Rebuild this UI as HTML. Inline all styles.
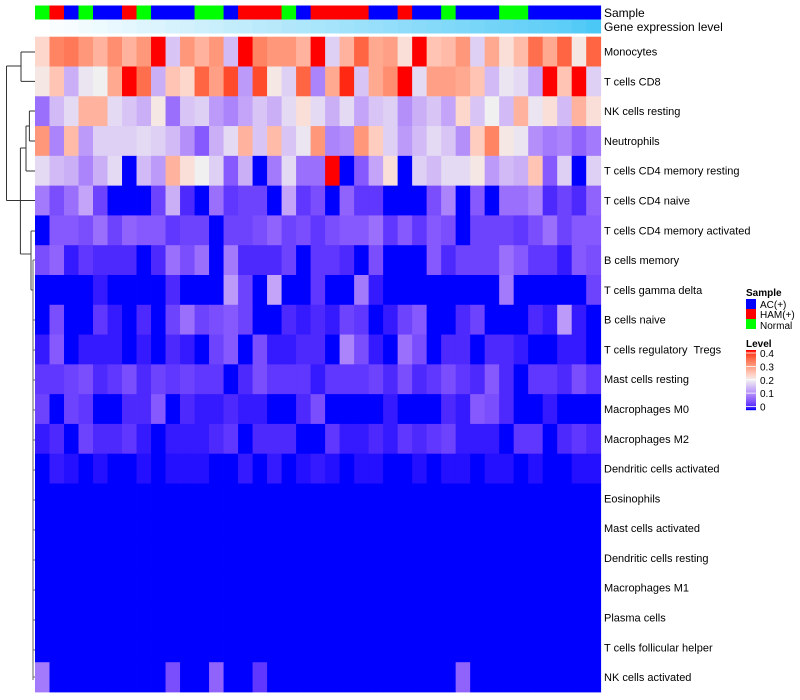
<!DOCTYPE html>
<html><head><meta charset="utf-8">
<style>
body{margin:0;background:#fff;font-family:"Liberation Sans",sans-serif;}
svg{display:block}
</style></head>
<body>
<svg id="chart" width="800" height="700" xmlns="http://www.w3.org/2000/svg">
<g id="dendro" stroke="#333" stroke-width="1" fill="none">
<path d="M6.5 66V200.5M6.5 66H21M21 52V81.4M21 52H35M21 81.4H35"/>
<path d="M29.4 111H35M29.4 141H35M29.4 111V141M26 126H29.4M26 126V171M26 171H35M20.4 148H26M20.4 148V254M6.5 200.5H35"/>
<path d="M20.4 254H31M31 231H35M31 231V290M31 290H33" stroke="#444"/>
<path d="M33 260V680M33 260H35M33 320H35M33 350H35M33 380H35M33 410H35M33 440H35M33 470H35M33 500H35M33 530H35M33 560H35M33 590H35M33 620H35M33 650H35M33 677H35" stroke="#666"/>
</g>
<g id="cells"></g>
<g id="top-annot"></g>
<g id="labels" font-size="11" fill="#000"></g>
<text x="604" y="17" font-size="12">Sample</text>
<text x="604" y="31" font-size="12">Gene expression level</text>
<g id="legend" font-size="11">
<text x="746" y="296" font-weight="bold" font-size="10">Sample</text>
<rect x="746" y="299" width="10" height="10" fill="#0000ff"/>
<text x="760" y="308" font-size="10">AC(+)</text>
<rect x="746" y="309" width="10" height="10" fill="#ff0000"/>
<text x="760" y="318" font-size="10">HAM(+)</text>
<rect x="746" y="319" width="10" height="10" fill="#00ff00"/>
<text x="760" y="329" font-size="10">Normal</text>
<text x="746" y="347" font-weight="bold" font-size="10">Level</text>
<g id="levelbar"></g>
</g>
</svg>
<script>
const rowLabels=["Monocytes","T cells CD8","NK cells resting","Neutrophils","T cells CD4 memory resting","T cells CD4 naive","T cells CD4 memory activated","B cells memory","T cells gamma delta","B cells naive","T cells regulatory  Tregs","Mast cells resting","Macrophages M0","Macrophages M2","Dendritic cells activated","Eosinophils","Mast cells activated","Dendritic cells resting","Macrophages M1","Plasma cells","T cells follicular helper","NK cells activated"];
const sampleGroups=["Normal","HAM","AC","Normal","AC","AC","HAM","Normal","AC","AC","AC","Normal","Normal","AC","HAM","HAM","HAM","Normal","AC","HAM","HAM","HAM","HAM","AC","AC","HAM","AC","AC","Normal","AC","AC","AC","Normal","Normal","AC","AC","AC","AC","AC"];
const geneLevel=[0,0.03,0.05,0.08,0.1,0.13,0.15,0.18,0.2,0.23,0.25,0.28,0.3,0.33,0.35,0.38,0.4,0.43,0.45,0.48,0.5,0.53,0.55,0.58,0.6,0.63,0.65,0.68,0.7,0.73,0.75,0.78,0.8,0.83,0.85,0.88,0.9,0.95,1];
const r0=[.23,.32,.33,.3,.27,.31,.27,.3,.4,.16,.3,.27,.3,.15,.4,.32,.3,.3,.27,.4,.17,.27,.35,.28,.29,.22,.4,.25,.26,.3,.17,.28,.22,.26,.34,.28,.35,.21,.35];
const r1=[.21,.25,.14,.19,.2,.28,.4,.34,.14,.25,.23,.35,.29,.37,.12,.37,.21,.17,.35,.1,.28,.39,.16,.28,.31,.4,.18,.29,.29,.28,.25,.15,.19,.18,.13,.4,.25,.4,.17];
const r2=[.08,.15,.18,.27,.27,.18,.16,.14,.21,.08,.16,.17,.12,.1,.13,.16,.14,.18,.22,.18,.14,.18,.13,.16,.17,.11,.14,.16,.13,.23,.16,.2,.15,.27,.19,.22,.15,.27,.22];
const r3=[.3,.1,.26,.12,.17,.17,.17,.18,.17,.15,.11,.06,.14,.18,.27,.16,.26,.16,.19,.3,.1,.11,.3,.24,.17,.12,.15,.18,.16,.11,.24,.32,.21,.19,.11,.09,.1,.07,.09];
const r4=[.18,.15,.14,.1,.14,.18,0,.15,.12,.27,.22,.2,.17,.06,.14,0,.09,.18,.08,.08,.4,0,.06,.13,.22,0,.17,.15,.18,.18,.21,.12,.15,.14,.25,.06,.17,0,.17];
const r5=[.09,.05,.08,.13,.04,0,0,0,.04,.14,.02,0,.08,.03,.04,.04,0,.13,.03,.05,0,.07,.03,.03,0,0,0,.05,.1,0,.06,0,.08,.08,.1,.02,.04,.02,.07];
const r6=[0,.06,.06,.05,.08,.04,.07,.06,.06,.03,.04,.04,0,.04,.04,.05,.07,.04,.05,.03,.05,.06,.06,.08,.03,.06,.03,.06,.05,0,.04,.04,.04,.03,.05,.08,.04,.06,.06];
const r7=[.05,.07,.01,.03,.02,.02,.02,0,.02,.08,.05,.08,0,.09,.02,.02,.02,.04,0,.03,.03,.02,0,.05,0,0,0,.06,.02,.04,.04,.04,.08,.06,.03,.03,.01,.06,.05];
const r8=[0,0,0,0,.01,0,0,0,0,.02,0,0,0,.12,.04,0,.13,0,0,.03,0,0,.09,.01,0,0,0,0,0,0,0,0,.09,0,0,0,0,0,.04];
const r9=[0,.05,0,0,.03,.01,0,.02,0,.04,.08,.04,.05,.06,.04,0,0,.02,.01,.02,.01,.04,.03,0,.01,.04,.06,0,0,.02,.04,0,0,0,.02,.01,.12,.01,0];
const r10=[.01,.06,0,.01,.01,.01,0,.01,0,.02,.01,0,.04,.06,0,.05,.01,.01,.02,.02,0,.1,.05,.01,0,.08,.05,0,.02,.02,0,.02,.02,.01,0,0,.01,.01,0];
const r11=[.03,.03,.04,.05,.02,.03,.05,.02,.04,.03,.04,.03,.03,0,.02,.05,.03,.03,.03,.01,.03,.03,.03,.04,.02,.05,.02,.03,.05,.03,.02,.06,.02,0,.03,.03,.02,.05,.03];
const r12=[.04,0,.04,.03,0,0,.02,.02,.06,0,.02,.01,.01,.02,.01,.01,0,0,.02,.05,0,0,0,0,.01,0,0,0,.02,.01,.06,.05,.02,0,0,.01,0,0,0];
const r13=[.01,.02,0,.04,.02,.02,.03,.01,0,.01,.01,.01,.02,.03,0,.02,.02,.02,0,0,.03,.01,.01,.02,.01,.03,.02,.03,.04,.01,.01,.01,0,.03,.03,0,.02,.03,.02];
const r14=[0,.01,.005,0,.005,0,0,.005,0,.005,.005,.005,0,0,.01,0,.01,0,.005,.01,.005,0,.005,.005,0,0,.005,0,.005,.005,0,.005,.005,0,.005,0,0,.005,.005];
const r15=Array(39).fill(0),r16=Array(39).fill(0),r17=Array(39).fill(0),r18=Array(39).fill(0),r19=Array(39).fill(0),r20=Array(39).fill(0);
const r21=[.09,0,0,0,0,0,0,0,0,.05,0,0,.07,0,0,.03,0,0,0,0,0,0,0,0,0,0,0,0,0,.07,0,0,0,0,0,0,0,0,0];
const values=[r0,r1,r2,r3,r4,r5,r6,r7,r8,r9,r10,r11,r12,r13,r14,r15,r16,r17,r18,r19,r20,r21];

const NS="http://www.w3.org/2000/svg";
const X0=35,X1=600.7,Y0=36.7,Y1=692;
const nC=sampleGroups.length,nR=rowLabels.length;
const cw=(X1-X0)/nC,rh=(Y1-Y0)/nR;
const xPos=i=>X0+i*cw, yPos=j=>Y0+j*rh;
// LAB interpolation
function lin(c){c/=255;return c<=0.04045?c/12.92:Math.pow((c+0.055)/1.055,2.4);}
function unlin(c){c=c<=0.0031308?12.92*c:1.055*Math.pow(c,1/2.4)-0.055;return Math.max(0,Math.min(255,Math.round(c*255)));}
function toLab(r,g,b){r=lin(r);g=lin(g);b=lin(b);
let x=(r*0.4124+g*0.3576+b*0.1805)/0.95047,y=r*0.2126+g*0.7152+b*0.0722,z=(r*0.0193+g*0.1192+b*0.9505)/1.08883;
const f=t=>t>0.008856?Math.cbrt(t):7.787*t+16/116;x=f(x);y=f(y);z=f(z);return [116*y-16,500*(x-y),200*(y-z)];}
function fromLab(L,a,b){let y=(L+16)/116,x=a/500+y,z=y-b/200;
const fi=t=>t*t*t>0.008856?t*t*t:(t-16/116)/7.787;x=fi(x)*0.95047;y=fi(y);z=fi(z)*1.08883;
const r=x*3.2406+y*-1.5372+z*-0.4986,g=x*-0.9689+y*1.8758+z*0.0415,bb=x*0.0557+y*-0.2040+z*1.0570;
return `rgb(${unlin(r)},${unlin(g)},${unlin(bb)})`;}
const stops=[[0,toLab(0,0,255)],[0.2,toLab(240,240,240)],[0.4,toLab(255,0,0)]];
function colorOf(v){v=Math.max(0,Math.min(0.4,v));let k=v<=0.2?0:1;const [a,la]=stops[k],[b,lb]=stops[k+1];const t=(v-a)/(b-a);
return fromLab(la[0]+(lb[0]-la[0])*t,la[1]+(lb[1]-la[1])*t,la[2]+(lb[2]-la[2])*t);}
const grpColor={AC:"#0000ff",HAM:"#ff0000",Normal:"#00ff00"};
function geneColor(t){const a=[255,255,255],b=[75,200,246];return `rgb(${a.map((c,i)=>Math.round(c+(b[i]-c)*t)).join(",")})`;}

const cells=document.getElementById("cells");
values.forEach((row,j)=>{row.forEach((v,i)=>{
const r=document.createElementNS(NS,"rect");
r.setAttribute("x",xPos(i));r.setAttribute("y",yPos(j));
r.setAttribute("width",cw+0.4);r.setAttribute("height",rh+0.4);
r.setAttribute("fill",colorOf(v));


cells.appendChild(r);});});
const ta=document.getElementById("top-annot");
sampleGroups.forEach((g,i)=>{
const r=document.createElementNS(NS,"rect");
r.setAttribute("x",xPos(i));r.setAttribute("y",5.5);r.setAttribute("width",cw+0.4);r.setAttribute("height",14);
r.setAttribute("fill",grpColor[g]);


ta.appendChild(r);
const q=document.createElementNS(NS,"rect");
q.setAttribute("x",xPos(i));q.setAttribute("y",19.5);q.setAttribute("width",cw+0.4);q.setAttribute("height",14);
q.setAttribute("fill",geneColor(geneLevel[i]));


ta.appendChild(q);});
const lg=document.getElementById("labels");
rowLabels.forEach((l,j)=>{
const t=document.createElementNS(NS,"text");
t.setAttribute("x",604);t.setAttribute("y",yPos(j)+rh/2+4);t.textContent=l;
t.setAttribute("xml:space","preserve");t.style.whiteSpace="pre";


lg.appendChild(t);});
const lb=document.getElementById("levelbar");
const ticks=[0.4,0.3,0.2,0.1,0];
const bt=350,bb=409;
for(let k=0;k<60;k++){const v=0.4-0.4*k/59;
const r=document.createElementNS(NS,"rect");r.setAttribute("x",746);r.setAttribute("y",bt+k);r.setAttribute("width",10);r.setAttribute("height",1.2);r.setAttribute("fill",colorOf(v));


lb.appendChild(r);}
ticks.forEach(v=>{const y=bt+3+(0.4-v)/0.4*53.5;
const t=document.createElementNS(NS,"text");t.setAttribute("x",760);t.setAttribute("y",y+4);t.setAttribute("font-size","10");t.textContent=v===0?"0":String(v);


lb.appendChild(t);
const l=document.createElementNS(NS,"line");l.setAttribute("x1",746);l.setAttribute("x2",756);l.setAttribute("y1",y);l.setAttribute("y2",y);l.setAttribute("stroke","#fff");l.setAttribute("stroke-width","0.8");


lb.appendChild(l);});
</script>
</body></html>
